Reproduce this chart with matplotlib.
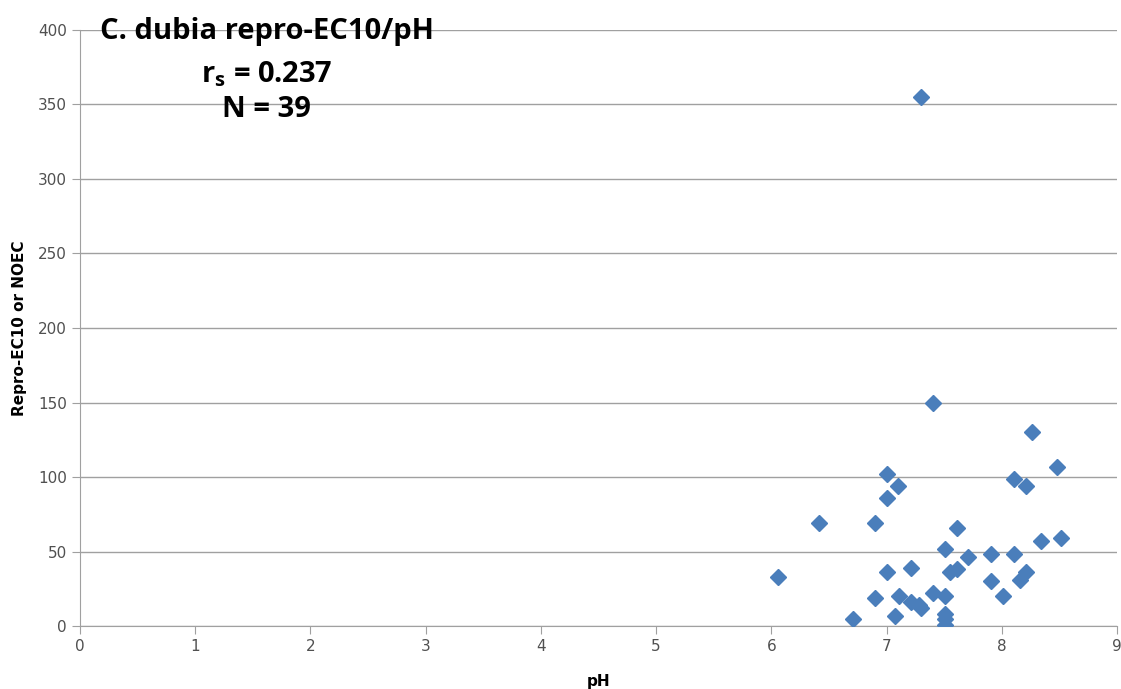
import matplotlib
matplotlib.use("Agg")
from matplotlib import pyplot as plt

# pH vs repro-EC10 / NOEC values
ph = [7.30, 7.40, 8.26, 8.48, 7.00, 7.10, 8.11, 8.21, 7.00, 6.41,
      6.90, 7.61, 8.34, 8.51, 7.51, 7.71, 7.91, 8.11, 6.06, 7.00,
      7.21, 7.55, 7.61, 7.91, 8.16, 8.21, 6.90, 7.11, 7.21, 7.30,
      7.28, 7.40, 7.51, 8.01, 6.71, 7.07, 7.51, 7.51, 7.51]
ec10 = [355, 150, 130, 107, 102, 94, 99, 94, 86, 69,
        69, 66, 57, 59, 52, 46, 48, 48, 33, 36,
        39, 36, 38, 30, 31, 36, 19, 20, 16, 12,
        14, 22, 20, 20, 5, 7, 8, 5, 1]

xticks = list(range(0, 10))
yticks = list(range(0, 401, 50))

fig = plt.figure(figsize=(11.21, 6.89), dpi=100)
ax = fig.add_axes([0.0714, 0.0914, 0.9250, 0.8651])

ax.plot(ph, ec10, linestyle="none", marker="D", markersize=8,
        color="#4A7EBB", markeredgecolor="#4A7EBB", zorder=3)

ax.set_xlim(0, 9)
ax.set_ylim(0, 400)
ax.set_xticks(xticks)
ax.set_yticks(yticks)

ax.grid(axis="y", color="#A0A0A0", linewidth=1)
ax.set_axisbelow(True)
for s in ["top", "right"]:
    ax.spines[s].set_visible(False)
for s in ["left", "bottom"]:
    ax.spines[s].set_color("#A0A0A0")
ax.tick_params(axis="both", colors="#A0A0A0", labelcolor="#505050",
               labelsize=11, length=6, direction="out")

ax.set_xlabel("pH", fontsize=11, fontweight="bold", labelpad=14)
ax.set_ylabel("Repro-EC10 or NOEC", fontsize=11, fontweight="bold", labelpad=8)

# annotation block in the top left
tkw = dict(transform=ax.transAxes, ha="center", va="center",
           fontsize=21, fontweight="bold", family="Open Sans")
ax.text(0.18, 0.998, "C. dubia repro-EC10/pH", **tkw)
ax.text(0.18, 0.926, r"r$_\mathregular{s}$ = 0.237", **tkw)
ax.text(0.18, 0.866, "N = 39", **tkw)

fig.savefig("out.png", dpi=100)
